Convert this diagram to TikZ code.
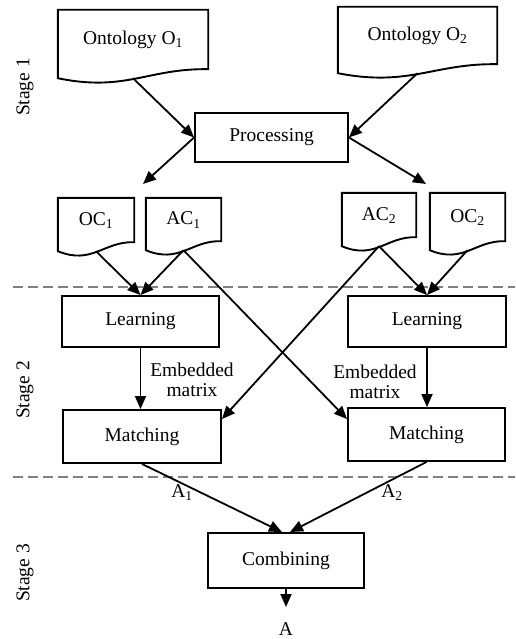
\documentclass[tikz,border=0pt]{standalone}
\usepackage{fontspec}
\setmainfont{Liberation Serif}
\usetikzlibrary{arrows.meta,calc}
\newcommand\docoutline[1]{%
  \draw[boxline] (#1.south west) -- (#1.north west) -- (#1.north east) -- ([yshift=9pt]#1.south east)
    .. controls ($(#1.south west)!0.6!(#1.south east)+(0,-10)$) and ($(#1.south west)!0.45!(#1.south east)+(0,14)$) .. (#1.south west) -- cycle;}
\begin{document}
\begin{tikzpicture}[x=1pt,y=-1pt,
  every node/.style={font=\fontsize{19.5}{20}\selectfont},
  boxline/.style={line width=1.9pt},
  proc/.style={draw, line width=1.9pt, rectangle, inner sep=0pt},
  docnode/.style={rectangle, inner sep=0pt},
  arr/.style={line width=1.8pt, -{Triangle[length=13pt,width=11pt]}},
  sepline/.style={dash pattern=on 10pt off 5pt, line width=1.2pt, gray},
  stagelbl/.style={rotate=90},
  plain/.style={inner sep=0pt}]
\useasboundingbox (0,0) rectangle (515,639);

% document nodes
\node[docnode, minimum width=150pt, minimum height=68pt, label={[yshift=4pt]center:Ontology O\textsubscript{1}}] (o1) at (133,44) {};
\node[docnode, minimum width=159pt, minimum height=66pt, label={[yshift=4pt]center:Ontology O\textsubscript{2}}] (o2) at (417.5,40) {};
\node[docnode, minimum width=76pt, minimum height=53pt, label={[yshift=4pt]center:OC\textsubscript{1}}] (oc1) at (96,224.5) {};
\node[docnode, minimum width=75pt, minimum height=52pt, label={[yshift=4pt]center:AC\textsubscript{1}}] (ac1) at (183.5,224) {};
\node[docnode, minimum width=74pt, minimum height=53pt, label={[yshift=4pt]center:AC\textsubscript{2}}] (ac2) at (379,219.5) {};
\node[docnode, minimum width=75pt, minimum height=57pt, label={[yshift=4pt]center:OC\textsubscript{2}}] (oc2) at (467.5,221.5) {};
\docoutline{o1}
\docoutline{o2}
\docoutline{oc1}
\docoutline{ac1}
\docoutline{ac2}
\docoutline{oc2}

% process boxes
\node[proc, minimum width=153pt, minimum height=49pt] (proc) at (271.5,137.5) {Processing};
\node[proc, minimum width=157pt, minimum height=51pt] (l1) at (140.5,321.5) {Learning};
\node[proc, minimum width=158pt, minimum height=51pt] (l2) at (427,321.5) {Learning};
\node[proc, minimum width=158pt, minimum height=53pt] (m1) at (142,436.5) {Matching};
\node[proc, minimum width=157pt, minimum height=53pt] (m2) at (426.5,434.5) {Matching};
\node[proc, minimum width=156pt, minimum height=55pt] (comb) at (286,560.5) {Combining};

% separators
\coordinate (d1a) at (13,287);
\coordinate (d1b) at (515,287);
\coordinate (d2a) at (13,477);
\coordinate (d2b) at (515,477);
\draw[sepline] (d1a) -- (d1b);
\draw[sepline] (d2a) -- (d2b);

% stage labels
\node[stagelbl] (s1) at (25,87) {Stage 1};
\node[stagelbl] (s2) at (25,390) {Stage 2};
\node[stagelbl] (s3) at (25,573) {Stage 3};

% free ends
\coordinate (f1) at (143,184);
\coordinate (f2) at (426,184);
\coordinate (aout) at (286,607);

% connectors
\draw[arr] (o1.south) -- (proc.west);
\draw[arr] (o2.south) -- (proc.east);
\draw[arr] (proc.west) -- (f1);
\draw[arr] (proc.east) -- (f2);
\draw[arr] (oc1.south) -- (l1.north);
\draw[arr] (ac1.south) -- (l1.north);
\draw[arr] (ac1.south) -- ([yshift=-12pt]m2.north west);
\draw[arr] (ac2.south) -- ([yshift=-10pt]m1.north east);
\draw[arr] (ac2.south) -- (l2.north);
\draw[arr] (oc2.south) -- (l2.north);
\draw[arr] (l1.south) -- (l1.south |- m1.north);
\draw[arr] (l2.south) -- (l2.south |- m2.north);
\draw[arr] (m1.south) -- ([xshift=-4pt]comb.north);
\draw[arr] (m2.south) -- ([xshift=4pt]comb.north);
\draw[arr] (comb.south) -- (aout);

% labels
\node[plain, align=center] (e1) at (192,380) {Embedded\\matrix};
\node[plain, align=center] (e2) at (375,382) {Embedded\\matrix};
\node[plain] (a1) at (182,493) {A\textsubscript{1}};
\node[plain] (a2) at (392,493) {A\textsubscript{2}};
\node[plain] (a) at (286,629) {A};
\end{tikzpicture}
\end{document}
